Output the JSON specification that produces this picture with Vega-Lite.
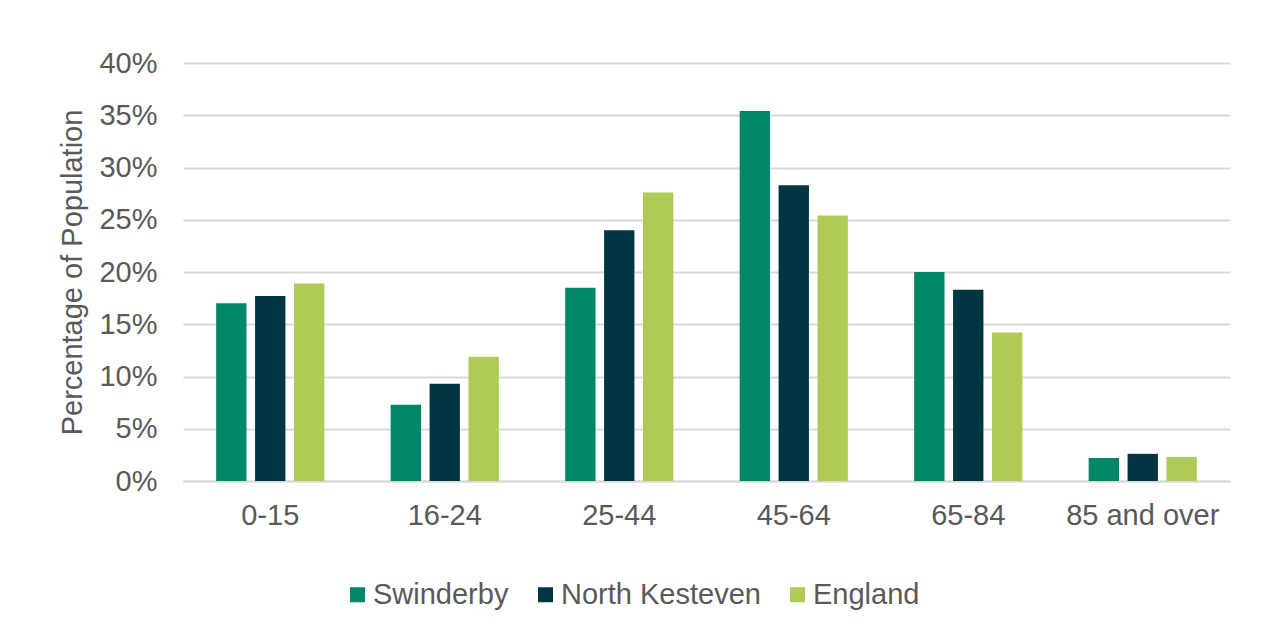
{
  "$schema": "https://vega.github.io/schema/vega-lite/v6.json",
  "width": 1047,
  "height": 418,
  "autosize": {"type": "none"},
  "padding": {"left": 183, "top": 63, "right": 36, "bottom": 160},
  "background": "white",
  "config": {
    "view": {"stroke": null},
    "font": "Liberation Sans",
    "axis": {"labelColor": "#595959", "titleColor": "#595959", "labelFont": "Liberation Sans", "titleFont": "Liberation Sans"}
  },
  "data": {
    "values": [
      {"age": "0-15", "area": "Swinderby", "pct": 0.170},
      {"age": "0-15", "area": "North Kesteven", "pct": 0.177},
      {"age": "0-15", "area": "England", "pct": 0.189},
      {"age": "16-24", "area": "Swinderby", "pct": 0.073},
      {"age": "16-24", "area": "North Kesteven", "pct": 0.093},
      {"age": "16-24", "area": "England", "pct": 0.119},
      {"age": "25-44", "area": "Swinderby", "pct": 0.185},
      {"age": "25-44", "area": "North Kesteven", "pct": 0.240},
      {"age": "25-44", "area": "England", "pct": 0.276},
      {"age": "45-64", "area": "Swinderby", "pct": 0.354},
      {"age": "45-64", "area": "North Kesteven", "pct": 0.283},
      {"age": "45-64", "area": "England", "pct": 0.254},
      {"age": "65-84", "area": "Swinderby", "pct": 0.200},
      {"age": "65-84", "area": "North Kesteven", "pct": 0.183},
      {"age": "65-84", "area": "England", "pct": 0.142},
      {"age": "85 and over", "area": "Swinderby", "pct": 0.022},
      {"age": "85 and over", "area": "North Kesteven", "pct": 0.026},
      {"age": "85 and over", "area": "England", "pct": 0.023}
    ]
  },
  "mark": {"type": "bar"},
  "encoding": {
    "x": {
      "field": "age",
      "type": "nominal",
      "sort": null,
      "scale": {"paddingInner": 0.38, "paddingOuter": 0.19},
      "axis": {"title": null, "labelAngle": 0, "labelFontSize": 29, "labelPadding": 20, "labelLimit": 0, "ticks": false, "domain": true, "domainColor": "#d9d9d9", "domainWidth": 2}
    },
    "xOffset": {
      "field": "area",
      "type": "nominal",
      "sort": ["Swinderby", "North Kesteven", "England"],
      "scale": {"paddingInner": 0.22}
    },
    "y": {
      "field": "pct",
      "type": "quantitative",
      "scale": {"domain": [0, 0.4]},
      "axis": {"title": "Percentage of Population", "format": ".0%", "values": [0, 0.05, 0.1, 0.15, 0.2, 0.25, 0.3, 0.35, 0.4], "labelOverlap": false, "labelFontSize": 29, "titleFontSize": 29, "titleFontWeight": "normal", "labelPadding": 26, "titlePadding": 11, "ticks": false, "domain": false, "grid": true, "gridColor": "#d9d9d9", "gridWidth": 2}
    },
    "color": {
      "field": "area",
      "type": "nominal",
      "sort": ["Swinderby", "North Kesteven", "England"],
      "scale": {"domain": ["Swinderby", "North Kesteven", "England"], "range": ["#008767", "#003641", "#B0CB55"]},
      "legend": {"title": null, "orient": "none", "direction": "horizontal", "legendX": 160, "legendY": 517, "symbolType": "square", "symbolSize": 225, "symbolStrokeWidth": 0, "labelFontSize": 29, "labelLimit": 0, "labelColor": "#595959", "labelOffset": 1, "columnPadding": 22}
    }
  }
}
